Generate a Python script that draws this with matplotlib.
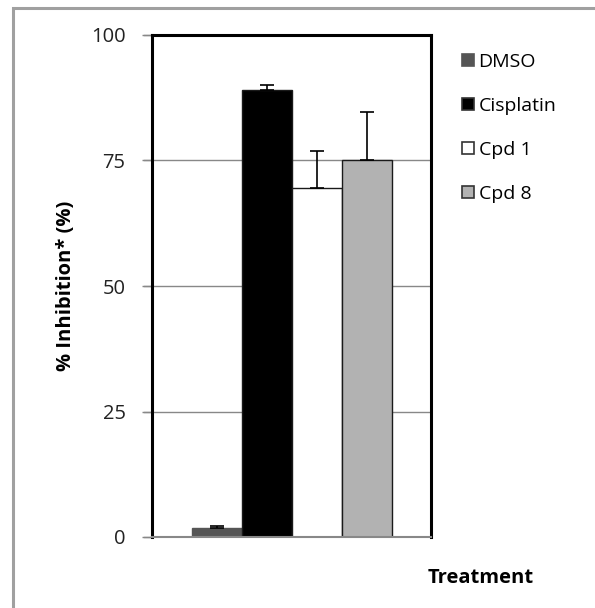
import matplotlib.pyplot as plt
from matplotlib.patches import Rectangle, Patch

# inhibition results, one bar per treatment
treatments = ['DMSO', 'Cisplatin', 'Cpd 1', 'Cpd 8']
inhibition = [1.8, 89.1, 69.5, 75.0]
errors = [0.4, 1.0, 7.4, 9.6]
colors = ['#555555', '#000000', '#ffffff', '#b2b2b2']
yticks = [0, 25, 50, 75, 100]

W, H = 595, 608
fig = plt.figure(figsize=(W / 100, H / 100), dpi=100)
plt.rcParams['font.family'] = ['Open Sans', 'DejaVu Sans']

# light grey chart-area border
fig.patches.append(Rectangle((13 / W, -0.1), 1.2, 1 - 8 / H + 0.1,
                             transform=fig.transFigure, fill=False,
                             edgecolor='#a0a0a0', linewidth=2.2))

ax = fig.add_axes([152 / W, 1 - 537 / H, (431 - 152) / W, (537 - 35) / H])

width = 50 / 279
offsets = [(i - 1.5) * width for i in range(len(treatments))]
for x, v, e, c, name in zip(offsets, inhibition, errors, colors, treatments):
    ax.bar(x, v, width=width, color=c, edgecolor='#1a1a1a' if c != '#555555' else c,
           linewidth=1.0, zorder=2, label=name)
    ax.errorbar(x, v, yerr=[[0], [e]], fmt='none', ecolor='black',
                elinewidth=1.2, capsize=5, capthick=1.2, zorder=3)

ax.set_xlim(-0.5, 0.5)
ax.set_ylim(0, 100)
ax.set_yticks(yticks)
ax.set_xticks([])
ax.yaxis.grid(True, color='#888888', linewidth=1.0, zorder=0)
ax.set_axisbelow(True)
ax.tick_params(axis='y', length=7, width=1, color='#888888', labelsize=14.5,
               labelcolor='#222222', pad=12)
for side in ['top', 'right', 'left']:
    ax.spines[side].set_linewidth(2.2)
    ax.spines[side].set_color('black')
ax.spines['bottom'].set_color('#888888')
ax.spines['bottom'].set_linewidth(1.5)

# gridlines stretch out over the tick marks like in the spreadsheet chart
for y in yticks:
    ax.plot([-0.028, 0], [y, y], transform=ax.get_yaxis_transform(),
            color='#888888', linewidth=1.0, clip_on=False)

ax.set_ylabel('% Inhibition* (%)', fontsize=14.5, fontweight='bold', labelpad=11)

handles = [Patch(facecolor=c, edgecolor='#333333' if c != '#555555' else c, linewidth=1.2)
           for c in colors]
fig.legend(handles, treatments, loc='upper left', bbox_to_anchor=(462 / W, 1 - 53 / H),
           frameon=False, fontsize=14, handlelength=0.6, handleheight=0.6,
           handletextpad=0.25, labelspacing=1.33, borderaxespad=0, borderpad=0)

fig.text(481 / W, 1 - 578 / H, 'Treatment', fontsize=14.5, fontweight='bold',
         ha='center', va='center')

fig.savefig('out.png', dpi=100)
